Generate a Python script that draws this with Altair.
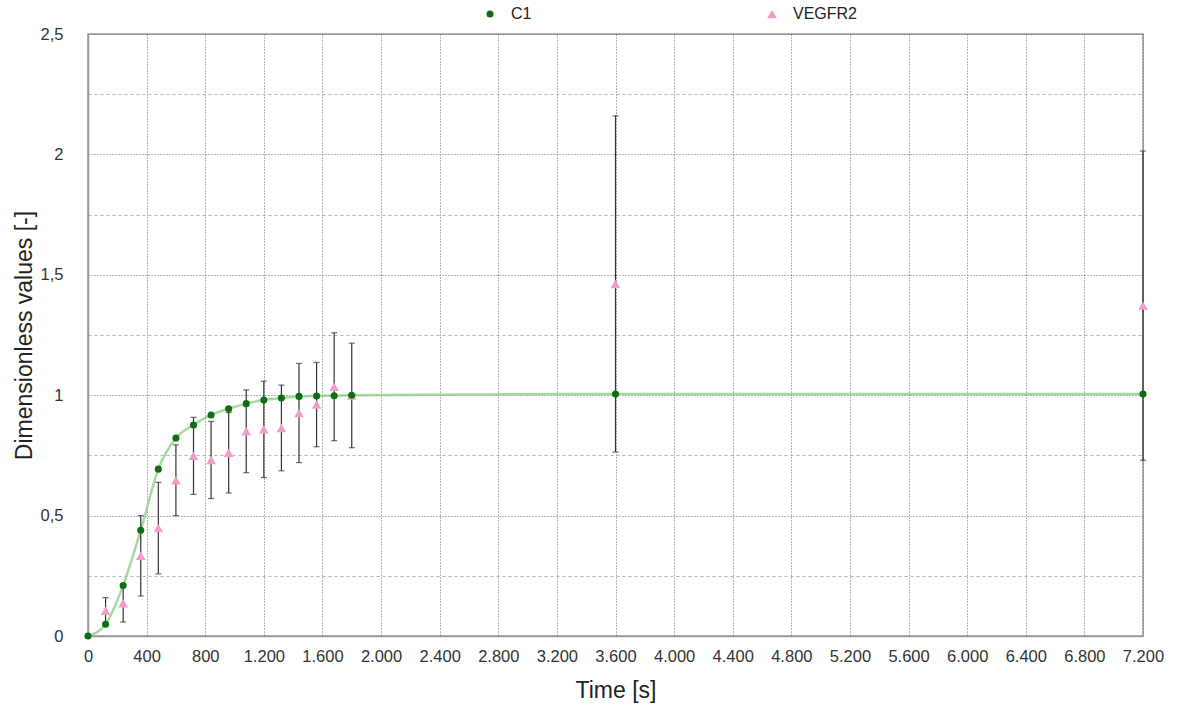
import altair as alt
import pandas as pd

# Sampling times [s]
time_s = [0, 120, 240, 360, 480, 600, 720, 840, 960, 1080, 1200, 1320,
          1440, 1560, 1680, 1800, 3600, 7200]

# Model curve C1 (dimensionless)
c1 = [0.0, 0.049, 0.21, 0.439, 0.693, 0.822, 0.876, 0.918, 0.944, 0.965,
      0.980, 0.988, 0.995, 0.997, 0.998, 1.0, 1.005, 1.005]

# Measured VEGFR2 (dimensionless) and its standard deviation
vegfr2 = [None, 0.105, 0.136, 0.333, 0.448, 0.647, 0.748, 0.731, 0.761, 0.85,
          0.858, 0.864, 0.926, 0.961, 1.035, 0.999, 1.462, 1.372]
vegfr2_sd = [None, 0.054, 0.078, 0.167, 0.19, 0.147, 0.16, 0.16, 0.167, 0.172,
             0.2, 0.178, 0.206, 0.175, 0.224, 0.217, 0.698, 0.642]

series_names = ["C1", "VEGFR2"]
series_colors = ["#0f6e14", "#f59bc9"]
series_shapes = ["circle", "triangle-up"]
series_sizes = [50, 95]

FONT = "Liberation Sans"

curve = pd.DataFrame({"t": time_s, "v": c1})

meas = pd.DataFrame({"t": time_s, "v": vegfr2, "sd": vegfr2_sd}).dropna()
meas["lo"] = meas["v"] - meas["sd"]
meas["hi"] = meas["v"] + meas["sd"]

# Triangles drawn first, green dots on top
points = pd.concat([
    pd.DataFrame({"t": meas["t"], "v": meas["v"], "series": "VEGFR2", "order": 0}),
    pd.DataFrame({"t": time_s, "v": c1, "series": "C1", "order": 1}),
], ignore_index=True)

x_ticks = list(range(0, 7201, 200))
y_ticks = [i * 0.25 for i in range(0, 11)]

x_scale = alt.Scale(domain=[0, 7200], nice=False, zero=False)
y_scale = alt.Scale(domain=[0, 2.5], nice=False)

x_axis = alt.Axis(
    title="Time [s]",
    values=x_ticks,
    labelExpr="datum.value % 400 === 0 ? replace(format(datum.value, ','), ',', '.') : ''",
    ticks=False,
    labelFlush=False,
    labelPadding=12,
    titlePadding=15,
    gridColor={"condition": {"test": "datum.value % 400 === 0", "value": "#6a6a6a"}, "value": "#b4b4b4"},
    gridDash={"condition": {"test": "datum.value % 400 === 0", "value": [1, 2]}, "value": [3, 3]},
)
y_axis = alt.Axis(
    title="Dimensionless values [-]",
    values=y_ticks,
    labelExpr="(round(datum.value * 4) % 2 === 0) ? replace(format(datum.value, ''), '.', ',') : ''",
    ticks=False,
    labelFlush=False,
    labelPadding=25,
    titlePadding=4,
    gridColor={"condition": {"test": "round(datum.value * 4) % 2 === 0", "value": "#6a6a6a"}, "value": "#b4b4b4"},
    gridDash={"condition": {"test": "round(datum.value * 4) % 2 === 0", "value": [1, 2]}, "value": [3, 3]},
)

line = alt.Chart(curve).mark_line(
    color="#8fcf8a", strokeWidth=2.5, opacity=0.8, interpolate="monotone"
).encode(
    x=alt.X("t:Q", scale=x_scale, axis=x_axis),
    y=alt.Y("v:Q", scale=y_scale, axis=y_axis),
)

bars = alt.Chart(meas).mark_rule(color="#333333", strokeWidth=1.2).encode(
    x="t:Q", y="lo:Q", y2="hi:Q"
)
caps_lo = alt.Chart(meas).mark_tick(
    orient="horizontal", color="#333333", size=6, thickness=1.2
).encode(x="t:Q", y="lo:Q")
caps_hi = alt.Chart(meas).mark_tick(
    orient="horizontal", color="#333333", size=6, thickness=1.2
).encode(x="t:Q", y="hi:Q")

legend = alt.Legend(
    title=None, orient="none", direction="horizontal",
    legendX=394, legendY=-28, columnPadding=232, labelOffset=13,
    labelFont=FONT, labelFontSize=16, labelColor="#222222",
    symbolStrokeWidth=0, symbolOpacity=1,
)

marks = alt.Chart(points).mark_point(filled=True, opacity=1).encode(
    x="t:Q",
    y="v:Q",
    color=alt.Color("series:N", scale=alt.Scale(domain=series_names, range=series_colors),
                    legend=legend),
    shape=alt.Shape("series:N", scale=alt.Scale(domain=series_names, range=series_shapes),
                    legend=legend),
    size=alt.Size("series:N", scale=alt.Scale(domain=series_names, range=series_sizes),
                  legend=legend),
    order=alt.Order("order:Q"),
)

chart = alt.layer(line, bars, caps_lo, caps_hi, marks).properties(
    width=1055,
    height=602,
    autosize=alt.AutoSizeParams(type="none"),
    padding={"left": 88, "top": 34, "right": 35, "bottom": 75},
).configure(
    background="white"
).configure_view(
    stroke="#9a9a9a", strokeWidth=1.5
).configure_axis(
    labelFont=FONT, titleFont=FONT,
    labelFontSize=16.5, labelColor="#333333",
    titleFontSize=23, titleFontWeight="normal", titleColor="#222222",
    domainColor="#9a9a9a", domainWidth=1.5,
    gridWidth=1,
)

chart.save("out.html", embed_options={"renderer": "svg", "actions": False})
